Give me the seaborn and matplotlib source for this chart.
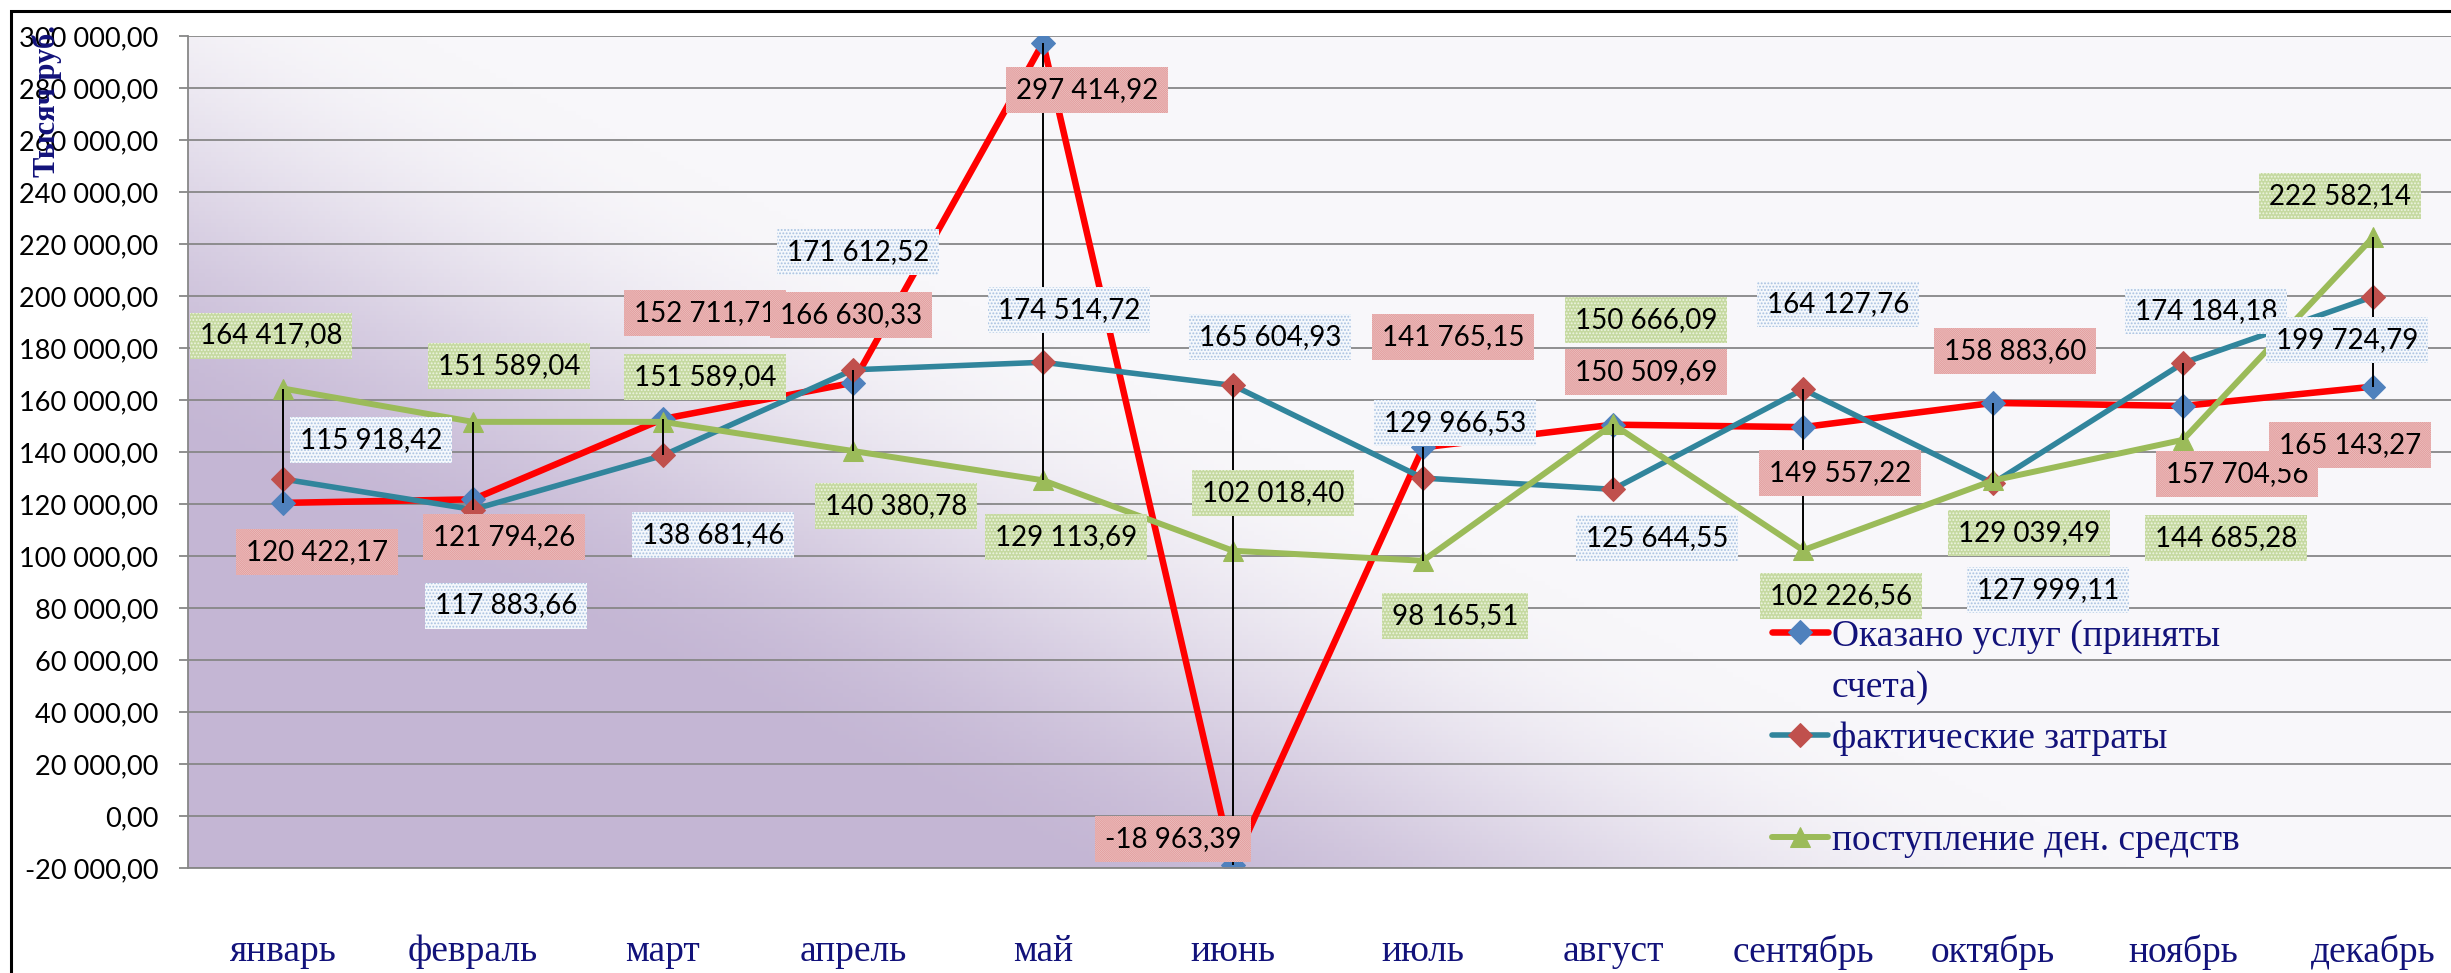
import numpy as np
import matplotlib.pyplot as plt
from matplotlib.lines import Line2D
from matplotlib.patches import Rectangle
from matplotlib.ticker import FuncFormatter
import seaborn as sns

# данные за год, тыс. руб.
mesyacy = ['январь', 'февраль', 'март', 'апрель', 'май', 'июнь',
           'июль', 'август', 'сентябрь', 'октябрь', 'ноябрь', 'декабрь']
okazano = [120422.17, 121794.26, 152711.71, 166630.33, 297414.92, -18963.39,
           141765.15, 150509.69, 149557.22, 158883.60, 157704.56, 165143.27]
zatraty = [129600.00, 117883.66, 138681.46, 171612.52, 174514.72, 165604.93,
           129966.53, 125644.55, 164127.76, 127999.11, 174184.18, 199724.79]
# в январе подпись на картинке не совпадает с точкой
zatraty_podpisi = [115918.42, 117883.66, 138681.46, 171612.52, 174514.72, 165604.93,
                   129966.53, 125644.55, 164127.76, 127999.11, 174184.18, 199724.79]
postuplenie = [164417.08, 151589.04, 151589.04, 140380.78, 129113.69, 102018.40,
               98165.51, 150666.09, 102226.56, 129039.49, 144685.28, 222582.14]

navy = '#12127a'
grid_col = '#878787'

sns.set_theme(style='white')
plt.rcParams['font.family'] = ['Lato', 'DejaVu Sans']
plt.rcParams['hatch.linewidth'] = 0.9


def fmt(v, pos=None):
    return f"{v:,.2f}".replace(",", " ").replace(".", ",")


fig = plt.figure(figsize=(24.51, 9.73), dpi=100)
ax = fig.add_axes([188 / 2451, 1 - 868 / 973, 2280 / 2451, 832 / 973])

# фон: градиент от сиреневого (слева снизу) к белому
nx, ny = 400, 200
U, V = np.meshgrid(np.linspace(0, 1, nx), np.linspace(1, 0, ny))
X = U * 2280
Y = (1 - V) * 832
d = (-588 * X + 1210 * (Y - 244)) / 1345
t = np.clip((d + 320) / 480, 0, 1)
t = t * t * (3 - 2 * t)
c_white = np.array([248, 247, 250]) / 255
c_purple = np.array([196, 182, 212]) / 255
img = c_white[None, None, :] * (1 - t[..., None]) + c_purple[None, None, :] * t[..., None]
ax.imshow(img, extent=(0, 1, 0, 1), transform=ax.transAxes, aspect='auto', zorder=0)

x = np.arange(len(mesyacy))

sns.lineplot(x=x, y=okazano, ax=ax, color='#ff0000', lw=4.7, marker='D', markersize=12,
             markerfacecolor='#4f81bd', markeredgecolor='#4f81bd', sort=False, legend=False, zorder=2)
h_red = ax.lines[-1]
sns.lineplot(x=x, y=zatraty, ax=ax, color='#31859c', lw=4.0, marker='D', markersize=12,
             markerfacecolor='#c0504d', markeredgecolor='#c0504d', sort=False, legend=False, zorder=2.1)
h_teal = ax.lines[-1]
sns.lineplot(x=x, y=postuplenie, ax=ax, color='#9bbb59', lw=4.3, marker='^', markersize=15,
             markerfacecolor='#9bbb59', markeredgecolor='#9bbb59', sort=False, legend=False, zorder=2.2)
h_green = ax.lines[-1]

# линии от минимума до максимума
vse = np.array([okazano, zatraty, postuplenie])
ax.vlines(x, vse.min(axis=0), vse.max(axis=0), colors='black', lw=1.4, zorder=3)

# подписи значений
sdvig_red = [(34, 49), (31, 38), (42, -106), (-2, -68), (44, 47), (-60, -26),
             (30, -110), (33, -53), (37, 46), (22, -52), (54, 68), (-23, 58)]
sdvig_teal = [(88, -39), (33, 96), (50, 80), (5, -118), (26, -52), (37, -48),
              (32, -55), (44, 49), (35, -85), (55, 107), (23, -52), (-26, 43)]
sdvig_green = [(-12, -53), (36, -56), (42, -45), (43, 55), (23, 57), (40, -58),
               (32, 55), (33, -104), (38, 46), (36, 53), (43, 98), (-33, -41)]

stil_red = dict(boxstyle='square,pad=0.36', facecolor='#fdf7f7', edgecolor='#e3a0a0',
                linewidth=0, hatch='\\' * 16)
stil_teal = dict(boxstyle='square,pad=0.36', facecolor='#f5f8fc', edgecolor='#a9c1e0',
                 linewidth=0, hatch='.....')
stil_green = dict(boxstyle='square,pad=0.36', facecolor='#c5d9a0', edgecolor='#eef4e2',
                  linewidth=0, hatch='.....')

for yy, podp, sdv, stil in [(okazano, okazano, sdvig_red, stil_red),
                            (zatraty, zatraty_podpisi, sdvig_teal, stil_teal),
                            (postuplenie, postuplenie, sdvig_green, stil_green)]:
    for i in range(len(x)):
        dx, dy = sdv[i]
        ax.annotate(fmt(podp[i]), xy=(x[i], yy[i]), xytext=(dx, -dy), textcoords='offset pixels',
                    ha='center', va='center', fontsize=20, color='black', bbox=stil,
                    zorder=6, annotation_clip=False)

ax.set_xlim(-0.5, 11.5)
ax.set_ylim(-20000, 300000)
ax.set_yticks(np.arange(-20000, 300001, 20000))
ax.yaxis.set_major_formatter(FuncFormatter(fmt))
ax.set_xticks(x, mesyacy)

ax.yaxis.grid(True, color=grid_col, lw=1.3)
ax.set_axisbelow(True)
for s in ['top', 'right']:
    ax.spines[s].set_visible(False)
for s in ['left', 'bottom']:
    ax.spines[s].set_color(grid_col)
    ax.spines[s].set_linewidth(1.3)

ax.tick_params(axis='y', which='major', left=True, length=6.5, width=1.3, color=grid_col,
               direction='out', pad=15, labelsize=19.5, labelcolor='black')
ax.tick_params(axis='x', length=0, pad=48, labelsize=27, labelcolor=navy,
               labelfontfamily='Liberation Serif')

fig.text(47 / 2451, 1 - 101 / 973, 'Тысяч руб.', rotation=90, ha='center', va='center',
         fontsize=22, fontweight='bold', family='Liberation Serif', color=navy)

pustoy = Line2D([], [], linestyle='none')
leg = ax.legend([h_red, pustoy, h_teal, pustoy, h_green],
                ['Оказано услуг (приняты', 'счета)', 'фактические затраты', ' ',
                 'поступление ден. средств'],
                loc='upper left', bbox_to_anchor=(1772 / 2451, 1 - 619 / 973),
                bbox_transform=fig.transFigure, frameon=False,
                prop=dict(family='Liberation Serif', size=27), labelcolor=navy,
                handlelength=1.5, handletextpad=0.1, borderpad=0, borderaxespad=0,
                labelspacing=0.44, numpoints=1)
leg.set_zorder(7)

# внешняя рамка
fig.patches.append(Rectangle((11 / 2451, -0.2), 1.2, 1.2 - 11 / 973, fill=False,
                             edgecolor='black', lw=2.2, transform=fig.transFigure,
                             figure=fig, zorder=10))

fig.savefig('out.png', dpi=100)
